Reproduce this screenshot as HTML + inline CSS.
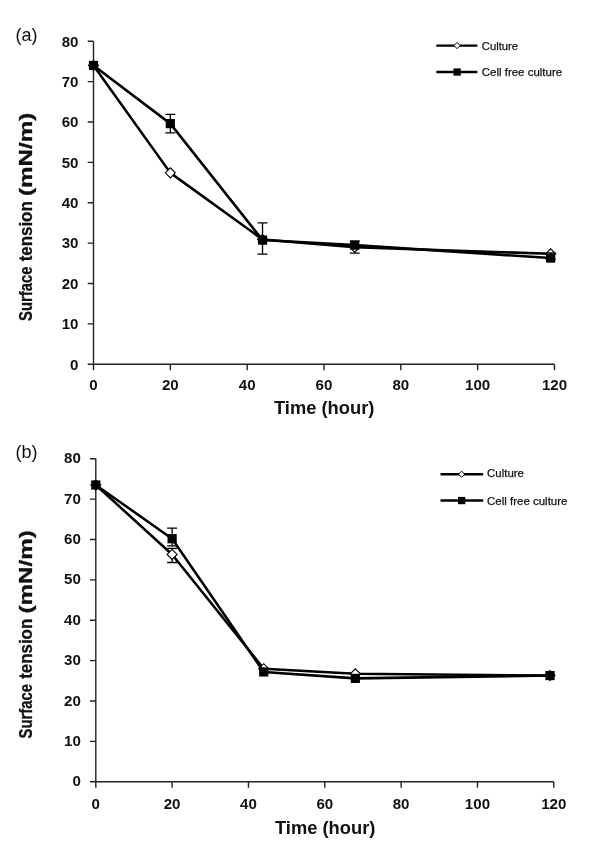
<!DOCTYPE html>
<html><head><meta charset="utf-8"><title>Surface tension</title>
<style>
html,body{margin:0;padding:0;background:#fff}
svg{display:block}
text{font-family:"Liberation Sans",sans-serif;fill:#111}
.tk{font-size:14.9px;font-weight:bold}
.lg{font-size:11.5px;stroke:#111;stroke-width:0.25px}
.pl{font-size:18px}
.ti{font-size:17.5px;font-weight:bold}
.yt{stroke:#111;stroke-width:0.3px}
</style></head><body>
<svg width="608" height="849" viewBox="0 0 608 849">
<rect width="608" height="849" fill="#fff"/>
<path d="M93.5 41.25V364.25H554.5" fill="none" stroke="#222" stroke-width="1.4"/>
<path d="M87.7 364.25H93.5M87.7 323.88H93.5M87.7 283.50H93.5M87.7 243.12H93.5M87.7 202.75H93.5M87.7 162.38H93.5M87.7 122.00H93.5M87.7 81.62H93.5M87.7 41.25H93.5M93.50 364.25V370.25M170.33 364.25V370.25M247.17 364.25V370.25M324.00 364.25V370.25M400.83 364.25V370.25M477.67 364.25V370.25M554.50 364.25V370.25" fill="none" stroke="#222" stroke-width="1.4"/>
<text class="tk" x="78.5" y="369.55" text-anchor="end" textLength="8.4" lengthAdjust="spacingAndGlyphs">0</text>
<text class="tk" x="78.5" y="329.18" text-anchor="end" textLength="16.8" lengthAdjust="spacingAndGlyphs">10</text>
<text class="tk" x="78.5" y="288.80" text-anchor="end" textLength="16.8" lengthAdjust="spacingAndGlyphs">20</text>
<text class="tk" x="78.5" y="248.43" text-anchor="end" textLength="16.8" lengthAdjust="spacingAndGlyphs">30</text>
<text class="tk" x="78.5" y="208.05" text-anchor="end" textLength="16.8" lengthAdjust="spacingAndGlyphs">40</text>
<text class="tk" x="78.5" y="167.68" text-anchor="end" textLength="16.8" lengthAdjust="spacingAndGlyphs">50</text>
<text class="tk" x="78.5" y="127.30" text-anchor="end" textLength="16.8" lengthAdjust="spacingAndGlyphs">60</text>
<text class="tk" x="78.5" y="86.92" text-anchor="end" textLength="16.8" lengthAdjust="spacingAndGlyphs">70</text>
<text class="tk" x="78.5" y="46.55" text-anchor="end" textLength="16.8" lengthAdjust="spacingAndGlyphs">80</text>
<text class="tk" x="93.50" y="390.45" text-anchor="middle" textLength="8.4" lengthAdjust="spacingAndGlyphs">0</text>
<text class="tk" x="170.33" y="390.45" text-anchor="middle" textLength="16.8" lengthAdjust="spacingAndGlyphs">20</text>
<text class="tk" x="247.17" y="390.45" text-anchor="middle" textLength="16.8" lengthAdjust="spacingAndGlyphs">40</text>
<text class="tk" x="324.00" y="390.45" text-anchor="middle" textLength="16.8" lengthAdjust="spacingAndGlyphs">60</text>
<text class="tk" x="400.83" y="390.45" text-anchor="middle" textLength="16.8" lengthAdjust="spacingAndGlyphs">80</text>
<text class="tk" x="477.67" y="390.45" text-anchor="middle" textLength="25.2" lengthAdjust="spacingAndGlyphs">100</text>
<text class="tk" x="554.50" y="390.45" text-anchor="middle" textLength="25.2" lengthAdjust="spacingAndGlyphs">120</text>
<polyline points="93.50,65.48 170.33,172.87 262.53,239.49 354.73,247.16 550.66,253.82" fill="none" stroke="#000" stroke-width="2.55" stroke-linejoin="round"/>
<path d="M349.73 241.11H359.73M349.73 253.22H359.73M354.73 241.11V253.22" fill="none" stroke="#000" stroke-width="1.3"/>
<path d="M88.50 65.48L93.50 60.48L98.50 65.48L93.50 70.48Z" fill="#fff" stroke="#000" stroke-width="1.1"/>
<path d="M165.33 172.87L170.33 167.87L175.33 172.87L170.33 177.87Z" fill="#fff" stroke="#000" stroke-width="1.1"/>
<path d="M257.53 239.49L262.53 234.49L267.53 239.49L262.53 244.49Z" fill="#fff" stroke="#000" stroke-width="1.1"/>
<path d="M349.73 247.16L354.73 242.16L359.73 247.16L354.73 252.16Z" fill="#fff" stroke="#000" stroke-width="1.1"/>
<path d="M545.66 253.82L550.66 248.82L555.66 253.82L550.66 258.82Z" fill="#fff" stroke="#000" stroke-width="1.1"/>
<polyline points="93.50,65.48 170.33,123.62 262.53,240.10 354.73,245.14 550.66,258.06" fill="none" stroke="#000" stroke-width="2.55" stroke-linejoin="round"/>
<path d="M165.33 114.33H175.33M165.33 132.90H175.33M170.33 114.33V132.90" fill="none" stroke="#000" stroke-width="1.3"/>
<path d="M257.53 222.94H267.53M257.53 254.03H267.53M262.53 222.94V254.03" fill="none" stroke="#000" stroke-width="1.3"/>
<path d="M545.66 252.81H555.66M545.66 259.27H555.66M550.66 252.81V259.27" fill="none" stroke="#000" stroke-width="1.3"/>
<rect x="88.90" y="60.88" width="9.2" height="9.2" fill="#000"/>
<rect x="165.73" y="119.02" width="9.2" height="9.2" fill="#000"/>
<rect x="257.93" y="235.50" width="9.2" height="9.2" fill="#000"/>
<rect x="350.13" y="240.54" width="9.2" height="9.2" fill="#000"/>
<rect x="546.06" y="253.46" width="9.2" height="9.2" fill="#000"/>
<path d="M436.3 45.6H477.4M436.3 72.0H477.4" stroke="#000" stroke-width="2.4" fill="none"/>
<path d="M454.0 45.6L457.1 42.5L460.20000000000005 45.6L457.1 48.7Z" fill="#fff" stroke="#000" stroke-width="1"/>
<rect x="453.5" y="68.4" width="7.3" height="7.3" fill="#000"/>
<text class="lg" x="481.8" y="50.0" textLength="36.2" lengthAdjust="spacingAndGlyphs">Culture</text>
<text class="lg" x="481.8" y="76.4" textLength="80.3" lengthAdjust="spacingAndGlyphs">Cell free culture</text>
<text class="pl" x="15.5" y="41.3" textLength="22" lengthAdjust="spacingAndGlyphs">(a)</text>
<text class="ti yt" transform="translate(32.2 320.9) rotate(-90)" textLength="54.3" lengthAdjust="spacingAndGlyphs">Surface</text>
<text class="ti yt" transform="translate(32.2 261.3) rotate(-90)" textLength="60" lengthAdjust="spacingAndGlyphs">tension</text>
<text class="ti yt" transform="translate(32.2 196.1) rotate(-90)" textLength="83.5" lengthAdjust="spacingAndGlyphs">(mN/m)</text>
<text class="ti" x="324.2" y="413.9" text-anchor="middle" textLength="100.5" lengthAdjust="spacingAndGlyphs">Time (hour)</text>
<path d="M95.8 458.75V781.75H553.8" fill="none" stroke="#222" stroke-width="1.4"/>
<path d="M90.0 781.75H95.8M90.0 741.38H95.8M90.0 701.00H95.8M90.0 660.62H95.8M90.0 620.25H95.8M90.0 579.88H95.8M90.0 539.50H95.8M90.0 499.12H95.8M90.0 458.75H95.8M95.80 781.75V787.75M172.13 781.75V787.75M248.47 781.75V787.75M324.80 781.75V787.75M401.13 781.75V787.75M477.47 781.75V787.75M553.80 781.75V787.75" fill="none" stroke="#222" stroke-width="1.4"/>
<text class="tk" x="80.8" y="786.35" text-anchor="end" textLength="8.4" lengthAdjust="spacingAndGlyphs">0</text>
<text class="tk" x="80.8" y="745.97" text-anchor="end" textLength="16.8" lengthAdjust="spacingAndGlyphs">10</text>
<text class="tk" x="80.8" y="705.60" text-anchor="end" textLength="16.8" lengthAdjust="spacingAndGlyphs">20</text>
<text class="tk" x="80.8" y="665.22" text-anchor="end" textLength="16.8" lengthAdjust="spacingAndGlyphs">30</text>
<text class="tk" x="80.8" y="624.85" text-anchor="end" textLength="16.8" lengthAdjust="spacingAndGlyphs">40</text>
<text class="tk" x="80.8" y="584.47" text-anchor="end" textLength="16.8" lengthAdjust="spacingAndGlyphs">50</text>
<text class="tk" x="80.8" y="544.10" text-anchor="end" textLength="16.8" lengthAdjust="spacingAndGlyphs">60</text>
<text class="tk" x="80.8" y="503.73" text-anchor="end" textLength="16.8" lengthAdjust="spacingAndGlyphs">70</text>
<text class="tk" x="80.8" y="463.35" text-anchor="end" textLength="16.8" lengthAdjust="spacingAndGlyphs">80</text>
<text class="tk" x="95.80" y="808.55" text-anchor="middle" textLength="8.4" lengthAdjust="spacingAndGlyphs">0</text>
<text class="tk" x="172.13" y="808.55" text-anchor="middle" textLength="16.8" lengthAdjust="spacingAndGlyphs">20</text>
<text class="tk" x="248.47" y="808.55" text-anchor="middle" textLength="16.8" lengthAdjust="spacingAndGlyphs">40</text>
<text class="tk" x="324.80" y="808.55" text-anchor="middle" textLength="16.8" lengthAdjust="spacingAndGlyphs">60</text>
<text class="tk" x="401.13" y="808.55" text-anchor="middle" textLength="16.8" lengthAdjust="spacingAndGlyphs">80</text>
<text class="tk" x="477.47" y="808.55" text-anchor="middle" textLength="25.2" lengthAdjust="spacingAndGlyphs">100</text>
<text class="tk" x="553.80" y="808.55" text-anchor="middle" textLength="25.2" lengthAdjust="spacingAndGlyphs">120</text>
<polyline points="95.80,484.99 172.13,554.44 263.73,668.70 355.33,673.75 549.98,675.56" fill="none" stroke="#000" stroke-width="2.55" stroke-linejoin="round"/>
<path d="M167.13 548.38H177.13M167.13 562.51H177.13M172.13 548.38V562.51" fill="none" stroke="#000" stroke-width="1.3"/>
<path d="M90.80 484.99L95.80 479.99L100.80 484.99L95.80 489.99Z" fill="#fff" stroke="#000" stroke-width="1.1"/>
<path d="M167.13 554.44L172.13 549.44L177.13 554.44L172.13 559.44Z" fill="#fff" stroke="#000" stroke-width="1.1"/>
<path d="M258.73 668.70L263.73 663.70L268.73 668.70L263.73 673.70Z" fill="#fff" stroke="#000" stroke-width="1.1"/>
<path d="M350.33 673.75L355.33 668.75L360.33 673.75L355.33 678.75Z" fill="#fff" stroke="#000" stroke-width="1.1"/>
<path d="M544.98 675.56L549.98 670.56L554.98 675.56L549.98 680.56Z" fill="#fff" stroke="#000" stroke-width="1.1"/>
<polyline points="95.80,484.99 172.13,538.69 263.73,671.93 355.33,678.39 549.98,675.56" fill="none" stroke="#000" stroke-width="2.55" stroke-linejoin="round"/>
<path d="M167.13 528.20H177.13M167.13 545.96H177.13M172.13 528.20V545.96" fill="none" stroke="#000" stroke-width="1.3"/>
<rect x="91.20" y="480.39" width="9.2" height="9.2" fill="#000"/>
<rect x="167.53" y="534.09" width="9.2" height="9.2" fill="#000"/>
<rect x="259.13" y="667.33" width="9.2" height="9.2" fill="#000"/>
<rect x="350.73" y="673.79" width="9.2" height="9.2" fill="#000"/>
<rect x="545.38" y="670.96" width="9.2" height="9.2" fill="#000"/>
<path d="M440.5 474.2H483.2M440.5 500.5H483.2" stroke="#000" stroke-width="2.4" fill="none"/>
<path d="M458.5 474.2L461.6 471.09999999999997L464.70000000000005 474.2L461.6 477.3Z" fill="#fff" stroke="#000" stroke-width="1"/>
<rect x="458.0" y="496.9" width="7.3" height="7.3" fill="#000"/>
<text class="lg" x="487.1" y="477.2" textLength="36.9" lengthAdjust="spacingAndGlyphs">Culture</text>
<text class="lg" x="487.1" y="505.2" textLength="80.3" lengthAdjust="spacingAndGlyphs">Cell free culture</text>
<text class="pl" x="15.5" y="457.6" textLength="22" lengthAdjust="spacingAndGlyphs">(b)</text>
<text class="ti yt" transform="translate(32.2 738.4) rotate(-90)" textLength="54.3" lengthAdjust="spacingAndGlyphs">Surface</text>
<text class="ti yt" transform="translate(32.2 678.8) rotate(-90)" textLength="60" lengthAdjust="spacingAndGlyphs">tension</text>
<text class="ti yt" transform="translate(32.2 613.6) rotate(-90)" textLength="83.5" lengthAdjust="spacingAndGlyphs">(mN/m)</text>
<text class="ti" x="325.2" y="834" text-anchor="middle" textLength="100.5" lengthAdjust="spacingAndGlyphs">Time (hour)</text>
</svg>
</body></html>
